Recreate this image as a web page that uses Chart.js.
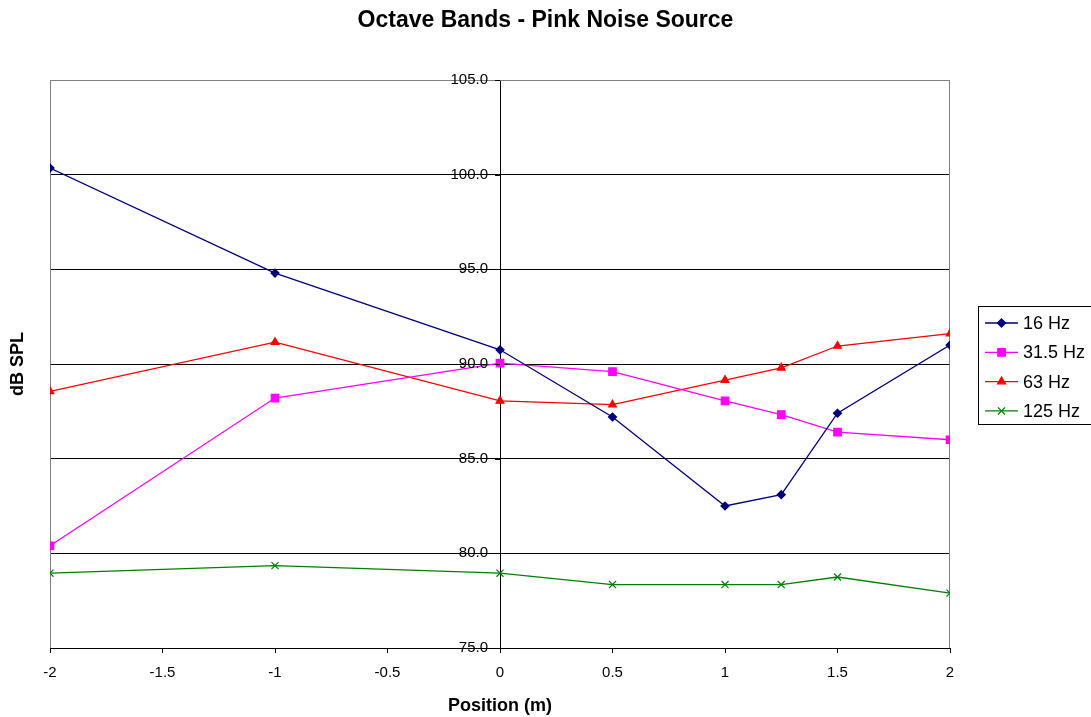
<!DOCTYPE html>
<html>
<head>
<meta charset="utf-8">
<script src="https://cdn.jsdelivr.net/npm/chart.js@4"></script>
<style>
  html, body { margin: 0; padding: 0; background: #fff; }
  #wrap { position: relative; width: 1091px; height: 717px; }
</style>
</head>
<body>
<div id="wrap"><canvas id="chart"></canvas></div>
<script>
/* --- Data ------------------------------------------------- */
const POSITIONS = [-2, -1, 0, 0.5, 1, 1.25, 1.5, 2];
const HZ16  = [100.35, 94.8, 90.75, 87.2, 82.5, 83.1, 87.4, 91.0];
const HZ31  = [80.4, 88.2, 90.05, 89.6, 88.05, 87.33, 86.4, 86.0];
const HZ63  = [88.55, 91.15, 88.05, 87.85, 89.15, 89.8, 90.95, 91.6];
const HZ125 = [78.95, 79.35, 78.95, 78.35, 78.35, 78.35, 78.75, 77.9];
const SERIES_NAMES = ['16 Hz', '31.5 Hz', '63 Hz', '125 Hz'];
const X_TICKS = [-2, -1.5, -1, -0.5, 0, 0.5, 1, 1.5, 2];
const Y_TICKS = [75, 80, 85, 90, 95, 100, 105];

const FONT = '"Liberation Sans", Arial, sans-serif';
const STYLES = [
  { color: '#000080', point: 'rectRot', radius: 4 },
  { color: '#ff00ff', point: 'rect', radius: 5.3 },
  { color: '#ff0000', point: 'triangle', radius: 4.5 },
  { color: '#008000', point: 'crossRot', radius: 5 },
];

const toPoints = ys => POSITIONS.map((x, i) => ({ x, y: ys[i] }));
const datasets = [HZ16, HZ31, HZ63, HZ125].map((ys, i) => ({
  label: SERIES_NAMES[i],
  data: toPoints(ys),
  yAxisID: 'y',
  showLine: true,
  borderColor: STYLES[i].color,
  backgroundColor: STYLES[i].color,
  pointBorderColor: STYLES[i].color,
  pointBackgroundColor: STYLES[i].color,
  pointStyle: STYLES[i].point,
  pointRadius: STYLES[i].radius,
  pointBorderWidth: 1.2,
  borderWidth: 1.3,
  tension: 0,
}));

/* --- Plot frame (gray left/top/right) --------------------- */
const frame = {
  id: 'frame',
  beforeDatasetsDraw(chart) {
    const { ctx, chartArea: a } = chart;
    ctx.save();
    ctx.strokeStyle = '#808080';
    ctx.lineWidth = 1;
    ctx.beginPath();
    ctx.moveTo(a.left + 0.5, a.bottom);
    ctx.lineTo(a.left + 0.5, a.top + 0.5);
    ctx.lineTo(a.right - 0.5, a.top + 0.5);
    ctx.lineTo(a.right - 0.5, a.bottom);
    ctx.stroke();
    ctx.restore();
  }
};

/* --- Y tick labels left of the centred axis --------------- */
const yLabels = {
  id: 'yLabels',
  afterDraw(chart) {
    const { ctx } = chart;
    const y = chart.scales.y, x = chart.scales.x;
    const axisX = x.getPixelForValue(0);
    ctx.save();
    ctx.font = '15px ' + FONT;
    ctx.fillStyle = '#000';
    ctx.textAlign = 'right';
    ctx.textBaseline = 'middle';
    ctx.strokeStyle = '#000';
    ctx.lineWidth = 1;
    y.ticks.forEach(t => {
      const py = y.getPixelForValue(t.value);
      ctx.beginPath();
      ctx.moveTo(axisX - 5, Math.round(py) + 0.5);
      ctx.lineTo(axisX, Math.round(py) + 0.5);
      ctx.stroke();
      ctx.fillText(t.value.toFixed(1), axisX - 12, py);
    });
    ctx.restore();
  }
};

/* --- Boxed legend with line + marker ---------------------- */
const boxLegend = {
  id: 'boxLegend',
  afterDraw(chart) {
    const { ctx } = chart;
    const left = 978, top = 306, w = 125, h = 118, rowH = 29.3;
    ctx.save();
    ctx.strokeStyle = '#000';
    ctx.lineWidth = 1;
    ctx.strokeRect(left + 0.5, top + 0.5, w, h);
    ctx.font = '18px ' + FONT;
    ctx.textBaseline = 'middle';
    ctx.textAlign = 'left';
    chart.data.datasets.forEach((ds, i) => {
      const y = top + 17 + i * rowH;
      ctx.strokeStyle = ds.borderColor;
      ctx.lineWidth = 1.3;
      ctx.beginPath();
      ctx.moveTo(985, y);
      ctx.lineTo(1018, y);
      ctx.stroke();
      ctx.fillStyle = ds.pointBackgroundColor;
      Chart.helpers.drawPoint(ctx, { pointStyle: ds.pointStyle, radius: ds.pointRadius, borderWidth: 1.2 }, 1001.5, y);
      ctx.fillStyle = '#000';
      ctx.fillText(ds.label, 1023, y + 1);
    });
    ctx.restore();
  }
};

new Chart(document.getElementById('chart'), {
  type: 'scatter',
  data: { datasets },
  options: {
    responsive: true,
    maintainAspectRatio: false,
    animation: false,
    devicePixelRatio: 1,
    layout: { padding: 0 },
    plugins: {
      legend: { display: false },
      tooltip: { enabled: false },
      title: {
        display: true,
        text: 'Octave Bands - Pink Noise Source',
        color: '#000',
        font: { family: FONT, size: 23, weight: 'bold' },
        padding: { top: 7, bottom: 45.4 },
      },
    },
    scales: {
      x: {
        type: 'linear',
        position: 'bottom',
        min: -2, max: 2,
        afterBuildTicks: axis => { axis.ticks = X_TICKS.map(v => ({ value: v })); },
        afterFit: axis => { axis.height = 69; },
        ticks: { color: '#000', font: { family: FONT, size: 15 }, padding: 11, maxRotation: 0, callback: v => String(v) },
        grid: { drawOnChartArea: false, drawTicks: true, tickLength: 5, color: '#000' },
        border: { color: '#000', width: 1 },
        title: {
          display: true, text: 'Position (m)', color: '#000',
          font: { family: FONT, size: 18, weight: 'bold' },
          padding: { top: 4, bottom: 0 },
        },
      },
      y: {
        type: 'linear',
        position: { x: 0 },
        min: 75, max: 105,
        afterBuildTicks: axis => { axis.ticks = Y_TICKS.map(v => ({ value: v })); },
        ticks: { display: false },
        grid: {
          color: ctx => (ctx.tick && ctx.tick.value === 105) ? '#808080' : '#000',
          lineWidth: 1, drawTicks: false,
        },
        border: { color: '#000', width: 1 },
      },
      yTitle: {
        type: 'linear',
        position: 'left',
        afterFit: axis => { axis.width = 50; },
        ticks: { display: false },
        grid: { display: false },
        border: { display: false },
        title: {
          display: true, text: 'dB SPL', color: '#000',
          font: { family: FONT, size: 18, weight: 'bold' },
          padding: { top: 7, bottom: 4 },
        },
      },
      legendSpace: {
        type: 'linear',
        position: 'right',
        afterFit: axis => { axis.width = 141; },
        ticks: { display: false },
        grid: { display: false },
        border: { display: false },
      },
    },
  },
  plugins: [frame, yLabels, boxLegend],
});
</script>
</body>
</html>
